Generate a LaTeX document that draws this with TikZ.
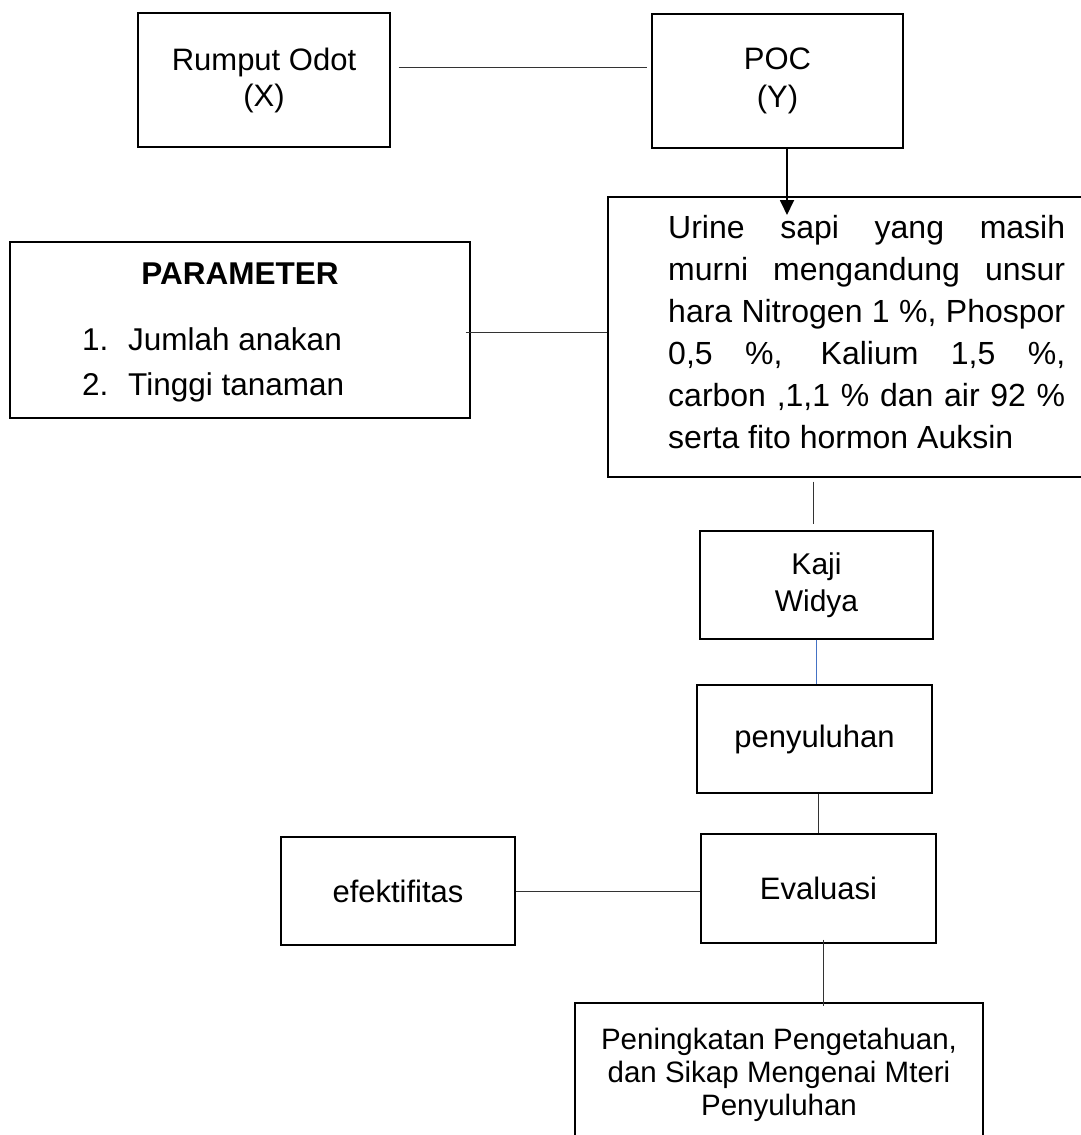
\documentclass[tikz,border=0pt]{standalone}
\usepackage{fontspec}
\setmainfont{Liberation Sans}
\usetikzlibrary{calc,arrows.meta}
\definecolor{wordblue}{RGB}{68,114,196}
\newcommand\fsz[2]{\fontsize{#1}{#2}\selectfont}
\begin{document}
\begin{tikzpicture}[x=1pt,y=-1pt,
  box/.style={draw=black, line width=1.3pt, rectangle, inner sep=0pt, align=center},
  conn/.style={line width=0.9pt, draw=black!80},
  blueconn/.style={line width=0.9pt, draw=wordblue},
  arrline/.style={line width=1.8pt, draw=black, -{Triangle[length=15pt,width=14pt]}},
  txt/.style={inner sep=0pt},
  utxt/.style={inner sep=0pt, anchor=base west, font=\fsz{32}{42}}]
\clip (0,0) rectangle (1081,1135);
\fill[white] (0,0) rectangle (1081,1135);

% boxes
\node[box, minimum width=252pt, minimum height=134pt, font=\fsz{31}{36}] (rumput) at (264,80) {Rumput Odot\\(X)};
\node[box, minimum width=251pt, minimum height=134pt, font=\fsz{31}{38}] (poc) at (777.5,81) {POC\\(Y)};
\node[box, minimum width=482pt, minimum height=280pt] (urine) at (849,337) {};
\node[box, minimum width=460pt, minimum height=176pt] (param) at (240,330) {};
\node[box, minimum width=233pt, minimum height=108pt, font=\fsz{30}{37}] (kaji) at (816.5,585) {Kaji\\Widya};
\node[box, minimum width=235pt, minimum height=108pt, font=\fsz{31}{36}] (peny) at (814.5,739) {penyuluhan};
\node[box, minimum width=235pt, minimum height=109pt, font=\fsz{31}{36}] (eval) at (818.5,888.5) {Evaluasi};
\node[box, minimum width=234pt, minimum height=108pt, font=\fsz{31}{36}] (efek) at (398,891) {efektifitas};
\node[box, minimum width=408pt, minimum height=143pt, font=\fsz{29.5}{33}] (pening) at (779,1074.5) {Peningkatan Pengetahuan,\\dan Sikap Mengenai Mteri\\Penyuluhan};

% urine text
\node[utxt] (u1) at (668,238) {\makebox[397pt][s]{Urine sapi yang masih}};
\node[utxt] (u2) at (668,280) {\makebox[397pt][s]{murni mengandung unsur}};
\node[utxt] (u3) at (668,322) {\makebox[397pt][s]{hara Nitrogen 1 \%, Phospor}};
\node[utxt] (u4) at (668,364) {\makebox[397pt][s]{0,5 \%, Kalium 1,5 \%,}};
\node[utxt] (u5) at (668,406) {\makebox[397pt][s]{carbon ,1,1 \% dan air 92 \%}};
\node[utxt] (u6) at (668,448) {serta fito hormon Auksin};

% parameter text
\node[txt, anchor=base, font=\fsz{31.5}{36}\bfseries] (ptitle) at (240,284) {PARAMETER};
\node[txt, anchor=base west, font=\fsz{31.5}{36}] (pn1) at (82,350) {1.};
\node[txt, anchor=base west, font=\fsz{31.5}{36}] (pi1) at (128,350) {Jumlah anakan};
\node[txt, anchor=base west, font=\fsz{31.5}{36}] (pn2) at (82,395) {2.};
\node[txt, anchor=base west, font=\fsz{31.5}{36}] (pi2) at (128,395) {Tinggi tanaman};

% connectors
\draw[conn] ($(rumput.east)+(8,-13)$) -- ($(poc.west)+(-4,-14)$);
\coordinate (arrtip) at (787,215);
\draw[arrline] (poc.south -| arrtip) -- (arrtip);
\draw[conn] ($(param.east)+(-5,2)$) -- ($(param.east -| urine.west)+(0,2)$);
\draw[conn] ($(urine.south -| kaji.north)+(-3,4)$) -- ($(kaji.north)+(-3,-6)$);
\draw[blueconn] (kaji.south) -- (kaji.south |- peny.north);
\draw[conn] (eval.north |- peny.south) -- (eval.north);
\draw[conn] (efek.east) -- (efek.east -| eval.west);
\draw[conn] ($(eval.south)+(4.5,-4)$) -- ($(eval.south |- pening.north)+(4.5,4)$);
\end{tikzpicture}
\end{document}
